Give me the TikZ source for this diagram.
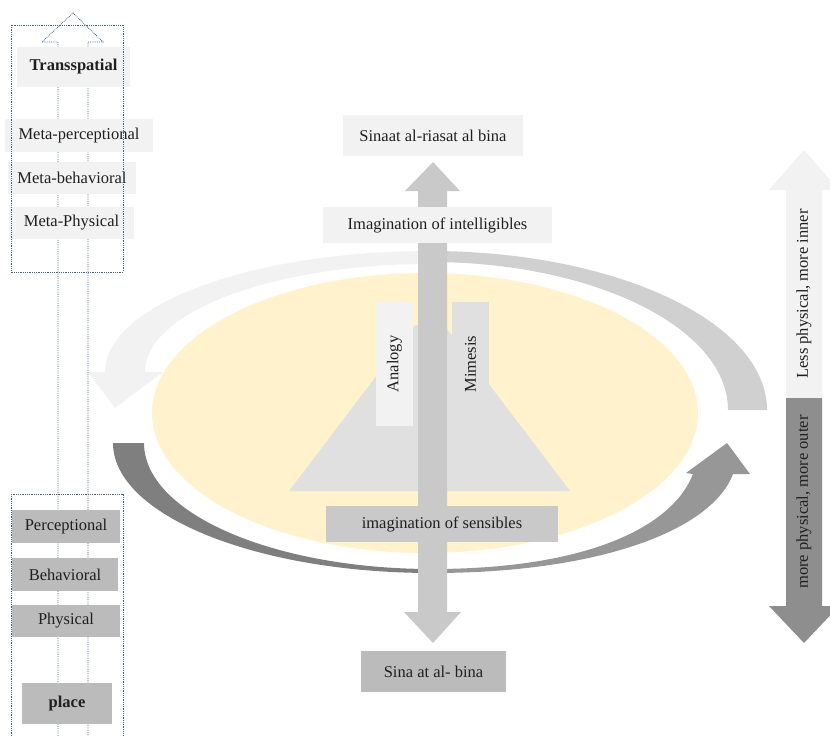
\documentclass[tikz,border=0pt]{standalone}
\usepackage{fontspec}
\setmainfont{Liberation Serif}
\definecolor{paleGray}{HTML}{F2F2F2}
\definecolor{midGray}{HTML}{BBBBBB}
\definecolor{shaftGray}{HTML}{C9C9C9}
\definecolor{trapGray}{HTML}{E0E0E0}
\definecolor{arcGray}{HTML}{D0D0D0}
\definecolor{arcLight}{HTML}{F2F2F2}
\definecolor{darkLeft}{HTML}{7F7F7F}
\definecolor{darkRight}{HTML}{979797}
\definecolor{outerGray}{HTML}{8E8E8E}
\definecolor{cream}{HTML}{FFF2CC}
\definecolor{guideBlue}{HTML}{46627F}
\definecolor{ink}{HTML}{1F1F1F}
\begin{document}
\begin{tikzpicture}[x=1pt,y=-1pt,
  font=\fontsize{16.5}{20}\selectfont,
  lbl/.style={inner sep=0pt, outer sep=0pt, text=ink},
  pale/.style={lbl, fill=paleGray},
  mid/.style={lbl, fill=midGray},
  boldlbl/.style={font=\fontsize{16.5}{20}\selectfont\bfseries},
  guide/.style={draw=guideBlue, densely dotted, line width=0.8pt},
]
\useasboundingbox (0,0) rectangle (830,736);
\clip (0,0) rectangle (830,736);

% central field
\fill[cream] (425,413) ellipse [x radius=273, y radius=140];

% upper cycle arrow: grey tail on the right, pale head on the left
\fill[arcGray] (430,251) .. controls (616,251) and (767,322) .. (767,410)
  -- (728,410) .. controls (728,328) and (594,262) .. (430,262) -- cycle;
\fill[arcLight] (430,251) .. controls (251,251) and (105,305) .. (105,372)
  -- (88,372) -- (115,408) -- (163,372) -- (145,372)
  .. controls (145,312) and (273,264) .. (430,264) -- cycle;

% lower cycle arrow: dark tail on the left, head on the right
\fill[darkLeft] (113,443) .. controls (113,515) and (256,573) .. (432,573)
  -- (432,569) .. controls (273,569) and (144,513) .. (144,443) -- cycle;
\fill[darkRight] (432,573) .. controls (600,573) and (712,530) .. (733,474)
  -- (750,474) -- (727,443) -- (686,473) -- (693,474)
  .. controls (672,528) and (585,569) .. (432,569) -- cycle;

% trapezoid with its two columns
\fill[trapGray] (289,491) -- (570,491) -- (444,325) -- (415,325) -- cycle;
\node[pale, rotate=90, minimum width=124, minimum height=37] (analogy) at (394.5,364) {Analogy};
\node[lbl, fill=trapGray, rotate=90, minimum width=124, minimum height=37] (mimesis) at (470.5,364) {Mimesis};

% vertical double arrow
\fill[shaftGray] (418,191) -- (405,191) -- (433,162) -- (460,191) -- (447,191)
  -- (447,612) -- (461,612) -- (433,643) -- (404,612) -- (418,612) -- cycle;

% central labels
\node[pale, minimum width=180, minimum height=41] (riasat) at (433,135.5) {Sinaat al-riasat al bina};
\node[pale, minimum width=229, minimum height=36] (intell) at (437.5,225) {Imagination of intelligibles};
\node[lbl, fill=shaftGray, minimum width=232, minimum height=36] (sens) at (442,524) {imagination of sensibles};
\node[mid, minimum width=145, minimum height=41] (bina) at (433.5,671.5) {Sina at al- bina};

% right scale arrow
\fill[paleGray] (786,398) -- (786,190) -- (769,190) -- (804,150) -- (839,190) -- (822,190) -- (822,398) -- cycle;
\fill[outerGray] (786,398) -- (786,606) -- (769,606) -- (804,643) -- (839,606) -- (822,606) -- (822,398) -- cycle;
\node[lbl, rotate=90] (inner) at (804,294) {Less physical, more inner};
\node[lbl, rotate=90] (outer) at (804,502) {more physical, more outer};

% left column: dotted upward arrow
\draw[guide] (58,745) -- (58,42) -- (42,42) -- (73,13) -- (103,42) -- (88,42) -- (88,745);

\node[pale, boldlbl, minimum width=113, minimum height=40] (trans) at (73.5,67) {Transspatial};
\node[pale, minimum width=148, minimum height=33] (mperc) at (79,135.5) {Meta-perceptional};
\node[pale, minimum width=128, minimum height=32] (mbeh) at (72,178) {Meta-behavioral};
\node[pale, minimum width=125, minimum height=32] (mphys) at (71.5,223) {Meta-Physical};

\node[mid, minimum width=108, minimum height=33] (perc) at (66,526.5) {Perceptional};
\node[mid, minimum width=106, minimum height=33] (beh) at (65,574.5) {Behavioral};
\node[mid, minimum width=108, minimum height=32] (phys) at (66,621) {Physical};
\node[mid, boldlbl, minimum width=90, minimum height=41] (place) at (67,703.5) {place};

% dotted frames of the two groups
\draw[guide] (11,25) rectangle (123,272);
\draw[guide] (11,494) rectangle (123,745);
\end{tikzpicture}
\end{document}
